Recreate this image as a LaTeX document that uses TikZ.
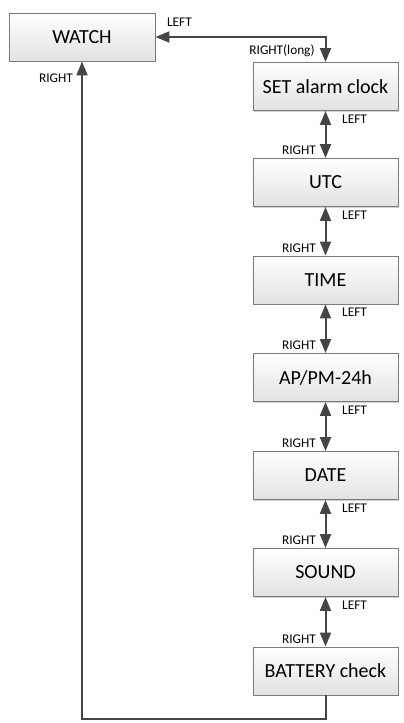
\documentclass[tikz,border=0pt]{standalone}
\usepackage{fontspec}
\setmainfont{Carlito}
\usetikzlibrary{arrows.meta,calc,shadows}
\definecolor{boxborder}{HTML}{7A7A7A}
\definecolor{boxbottom}{HTML}{E2E2E2}
\definecolor{linec}{HTML}{454545}
\begin{document}
\begin{tikzpicture}[x=1pt,y=-1pt,
  box/.style={draw=boxborder, line width=0.9pt, top color=white, bottom color=boxbottom,
    drop shadow={shadow xshift=1.3pt, shadow yshift=-1.3pt, fill=black!30, opacity=0.6},
    minimum width=145pt, minimum height=48pt, inner sep=0pt, font=\fontsize{20}{24}\selectfont},
  lbl/.style={inner sep=0pt, font=\fontsize{13.3}{15}\selectfont},
  conn/.style={draw=linec, line width=2pt, {Triangle[length=14pt,width=11pt]}-{Triangle[length=14pt,width=11pt]}},
  ret/.style={draw=linec, line width=2pt, -{Triangle[length=14pt,width=11pt]}}]
\useasboundingbox (0,0) rectangle (404,723);
\node[box, minimum width=146pt] (watch) at (82,37) {WATCH};
\node[box] (set) at (325.5,86.5) {SET alarm clock};
\node[box] (utc) at (325.5,182.5) {UTC};
\node[box] (time) at (325.5,280) {TIME};
\node[box] (ampm) at (325.5,377.5) {AP/PM-24h};
\node[box] (date) at (325.5,475.5) {DATE};
\node[box] (sound) at (325.5,572.5) {SOUND};
\node[box] (bat) at (325.5,671) {BATTERY check};

\draw[conn] (watch.east) -| (set.north);
\node[lbl] (lwatch) at (179.5,22.5) {LEFT};
\node[lbl] (rlong) at (282,51) {RIGHT(long)};

\foreach \a/\b in {set/utc,utc/time,time/ampm,ampm/date,date/sound,sound/bat}{
  \draw[conn] (\a.south) -- (\b.north);
  \node[lbl, anchor=west] (l\a) at ($(\a.south)+(16.5,8)$) {LEFT};
  \node[lbl, anchor=east] (r\b) at ($(\b.north)+(-9.5,-7.5)$) {RIGHT};
}

\coordinate (c1) at (325.5,719);
\coordinate (c2) at (82,719);
\draw[ret] (bat.south) -- (c1) -- (c2) -- (watch.south);
\node[lbl] (rret) at (56,78) {RIGHT};
\end{tikzpicture}
\end{document}
